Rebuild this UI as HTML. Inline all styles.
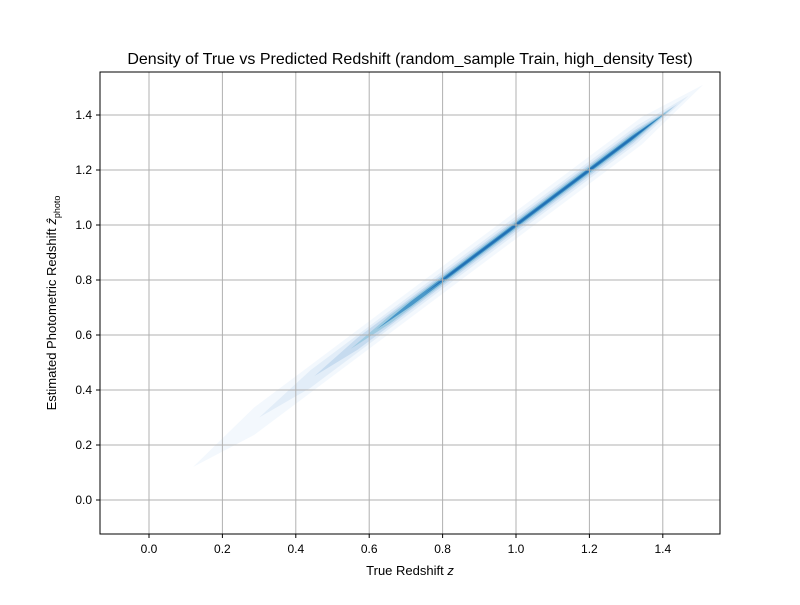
<!DOCTYPE html>
<html><head><meta charset="utf-8"><style>
body{margin:0;background:#fff}
svg{font-family:"Liberation Sans","DejaVu Sans",sans-serif}
</style></head><body>
<svg id="c" width="800" height="600">
<rect width="800" height="600" fill="#fff"/>
<g id="bands"></g>
<g id="grid"></g>
<rect x="100" y="72" width="620" height="462" fill="none" stroke="#000" stroke-width="1"/>
<g id="ticks"></g>
<text x="410" y="64" font-size="16" text-anchor="middle">Density of True vs Predicted Redshift (random_sample Train, high_density Test)</text>
<text x="410" y="575" font-size="13" text-anchor="middle">True Redshift <tspan font-style="italic">z</tspan></text>
<text transform="translate(56,303) rotate(-90)" font-size="13" text-anchor="middle">Estimated Photometric Redshift <tspan font-style="italic">ẑ</tspan><tspan font-size="9" dy="4">photo</tspan></text>
</svg>
<script>
const xTicks=[0.0,0.2,0.4,0.6,0.8,1.0,1.2,1.4];
const yTicks=[0.0,0.2,0.4,0.6,0.8,1.0,1.2,1.4];
const bandStart=[0.12,0.3,0.45,0.55,0.62,0.75];
const bandEnd=[1.51,1.47,1.44,1.43,1.41,1.39];
const bandHalfWidth=[0.05,0.032,0.022,0.015,0.009,0.005];
const bandColor=['#f3f8fd','#e2edf8','#c6dbef','#9ecae1','#4a98c9','#2171b5'];
const X=z=>149+z*367, Y=z=>500-z*275;
const ns='http://www.w3.org/2000/svg';
const bands=document.getElementById('bands');
bandStart.forEach((a,i)=>{
  const b=bandEnd[i],w=bandHalfWidth[i],d=(b-a)*0.12;
  const pts=[[a,a],[a+d,a+d+w],[b-d,b-d+w],[b,b],[b-d,b-d-w],[a+d,a+d-w]];
  const p=document.createElementNS(ns,'polygon');
  p.setAttribute('points',pts.map(q=>X(q[0])+','+Y(q[1])).join(' '));
  p.setAttribute('fill',bandColor[i]);
  
  
  bands.appendChild(p);
});
const g=document.getElementById('grid'),t=document.getElementById('ticks');
xTicks.forEach(v=>{
  const l=document.createElementNS(ns,'line');
  l.setAttribute('x1',X(v));l.setAttribute('x2',X(v));l.setAttribute('y1',72);l.setAttribute('y2',534);
  l.setAttribute('stroke','#b0b0b0');
  
  
  g.appendChild(l);
  const k=document.createElementNS(ns,'line');
  k.setAttribute('x1',X(v));k.setAttribute('x2',X(v));k.setAttribute('y1',534);k.setAttribute('y2',538);k.setAttribute('stroke','#000');
  
  
  t.appendChild(k);
  const s=document.createElementNS(ns,'text');
  s.setAttribute('x',X(v));s.setAttribute('y',553);s.setAttribute('font-size','12');s.setAttribute('text-anchor','middle');
  s.textContent=v.toFixed(1);
  
  
  t.appendChild(s);
});
yTicks.forEach(v=>{
  const l=document.createElementNS(ns,'line');
  l.setAttribute('x1',100);l.setAttribute('x2',720);l.setAttribute('y1',Y(v));l.setAttribute('y2',Y(v));
  l.setAttribute('stroke','#b0b0b0');
  
  
  g.appendChild(l);
  const k=document.createElementNS(ns,'line');
  k.setAttribute('x1',96);k.setAttribute('x2',100);k.setAttribute('y1',Y(v));k.setAttribute('y2',Y(v));k.setAttribute('stroke','#000');
  
  
  t.appendChild(k);
  const s=document.createElementNS(ns,'text');
  s.setAttribute('x',92);s.setAttribute('y',Y(v)+4);s.setAttribute('font-size','12');s.setAttribute('text-anchor','end');
  s.textContent=v.toFixed(1);
  
  
  t.appendChild(s);
});
</script>
</body></html>
